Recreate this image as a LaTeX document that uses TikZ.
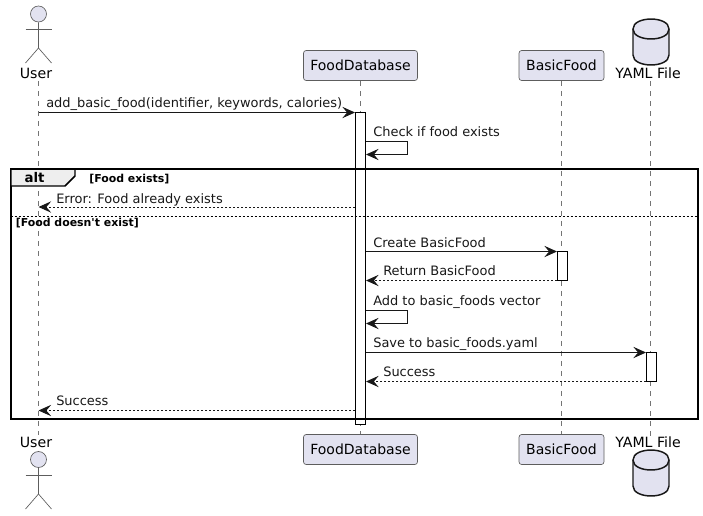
\documentclass[tikz,border=0pt]{standalone}
\usepackage{fontspec}
\setmainfont{DejaVu Sans}
\newfontfamily\gardefont{DejaVu Sans}
\usetikzlibrary{arrows.meta, positioning}
\definecolor{FondPart}{RGB}{226,226,240}
\definecolor{Trait}{RGB}{24,24,24}
\definecolor{FondAlt}{RGB}{238,238,238}
\tikzset{part/.style={rectangle, rounded corners=2pt, draw=Trait!70, fill=FondPart,
  line width=0.5pt, minimum height=22.5pt, inner sep=0pt, font=\fontsize{10.5pt}{12pt}\selectfont}}
\tikzset{nom/.style={inner sep=0pt, font=\fontsize{10.6pt}{12pt}\selectfont}}
\tikzset{lbl/.style={anchor=base west, inner sep=0pt, text=Trait, font=\fontsize{9.72pt}{12pt}\selectfont}}
\tikzset{garde/.style={anchor=base west, inner sep=0pt, font=\fontsize{8.2pt}{10pt}\gardefont\bfseries}}
\tikzset{vie/.style={draw=Trait!60, line width=0.4pt, dash pattern=on 3.75pt off 3.75pt}}
\tikzset{activ/.style={rectangle, draw=black, fill=white, line width=0.75pt, minimum width=7.5pt, inner sep=0pt}}
\tikzset{tete/.style={circle, draw=Trait!70, fill=FondPart, line width=0.5pt, minimum size=12pt, inner sep=0pt}}
\tikzset{corps/.style={draw=Trait!70, line width=0.5pt}}
\tikzset{cadre/.style={draw=black, line width=1.5pt}}
\tikzset{base/.pic={
  \draw[draw=Trait, fill=FondPart, line width=1.1pt] (-18,-13) .. controls (-18,-26.3) and (18,-26.3) .. (18,-13)
    -- (18,13) .. controls (18,26.3) and (-18,26.3) .. (-18,13) -- cycle;
  \draw[draw=Trait, line width=1.1pt] (-18,-13) .. controls (-18,0.3) and (18,0.3) .. (18,-13);
}}
\tikzset{fl/.style={-{Stealth[length=9.5pt, width=8.5pt, inset=3.6pt]}, draw=Trait, line width=0.75pt}}
\tikzset{ret/.style={fl, dash pattern=on 1.5pt off 1.5pt}}

\begin{document}
\begin{tikzpicture}[x=0.75pt, y=-0.75pt]
\useasboundingbox (0,0) rectangle (703,515);
% participants
\node[part, minimum width=85.5pt] (foodT) at (360.5,65.5) {FoodDatabase};
\node[part, minimum width=63.75pt] (basicT) at (561.5,65.5) {BasicFood};
\node[part, minimum width=85.5pt] (foodB) at (360.5,449.5) {FoodDatabase};
\node[part, minimum width=63.75pt] (basicB) at (561.5,449.5) {BasicFood};
\node[nom] (userT) at (36,73) {User};
\node[nom] (userB) at (36,442) {User};
% lifelines
\coordinate (userA) at (38.5,81); \coordinate (userZ) at (38.5,435);
\coordinate (yamlA) at (650.5,81); \coordinate (yamlZ) at (650.5,436);
\draw[vie] (userA) -- (userZ);
\draw[vie] (foodT) -- (foodB);
\draw[vie] (basicT) -- (basicB);
\draw[vie] (yamlA) -- (yamlZ);
\node[nom] (yamlT) at (648,73) {YAML File};
\node[nom] (yamlB) at (648,442) {YAML File};
\pic (dbT) at (651,42) {base};
\pic (dbB) at (651,473) {base};
% actors
\node[tete] (headT) at (38.5,14) {};
\coordinate (neckT) at (38.5,48);
\draw[corps] (headT.south) -- (neckT) -- ++(-13,15);
\draw[corps] (neckT) -- ++(13,15);
\draw[corps] (25.5,29) -- (51.5,29);
\node[tete] (headB) at (38.5,459.5) {};
\coordinate (neckB) at (38.5,494);
\draw[corps] (headB.south) -- (neckB) -- ++(-13,15);
\draw[corps] (neckB) -- ++(13,15);
\draw[corps] (25.5,475) -- (51.5,475);
% activations
\node[activ, minimum height=234pt] (acFood) at (360.5,268.5) {};
\node[activ, minimum height=21.75pt] (acBasic) at (562.5,266) {};
\node[activ, minimum height=21.75pt] (acYaml) at (651.5,367) {};
% frame
\draw[cadre] (10.5,169) rectangle (697.5,418.5);
\fill[FondAlt] (11.5,170) -- (75,170) -- (75,176) -- (65,186) -- (11.5,186) -- cycle;
\draw[draw=black, line width=1.1pt] (75,169) -- (75,176) -- (65,186) -- (10.5,186);
\node[anchor=base, inner sep=0pt, font=\fontsize{10pt}{12pt}\selectfont\bfseries] (alt) at (34.5,182.5) {alt};
\node[garde] (gA) at (89,182) {[Food exists]};
\coordinate (sepA) at (10.5,216); \coordinate (sepB) at (697.5,216);
\draw[draw=black, line width=0.5pt, dash pattern=on 1.5pt off 1.5pt] (sepA) -- (sepB);
\node[garde] (gB) at (15.5,226) {[Food doesn't exist]};
% messages
\coordinate (u1) at (38.5,112.5); \coordinate (f1) at (355,112.5);
\draw[fl] (u1) -- (f1);
\node[lbl] (m1) at (46,107) {add\_basic\_food(identifier, keywords, calories)};
\coordinate (f2a) at (366,141.5); \coordinate (f2b) at (366,154.5);
\draw[fl] (f2a) -- ++(41.5,0) |- (f2b);
\node[lbl] (m2) at (373,136) {Check if food exists};
\coordinate (f3) at (355,207); \coordinate (u3) at (38.5,207);
\draw[ret] (f3) -- (u3);
\node[lbl] (m3) at (56,203) {Error: Food already exists};
\coordinate (f4) at (366,251.5); \coordinate (b4) at (557,251.5);
\draw[fl] (f4) -- (b4);
\node[lbl] (m4) at (373,247) {Create BasicFood};
\coordinate (b5) at (557,280.5); \coordinate (f5) at (366,280.5);
\draw[ret] (b5) -- (f5);
\node[lbl] (m5) at (383,275.5) {Return BasicFood};
\coordinate (f6a) at (366,310.5); \coordinate (f6b) at (366,323.5);
\draw[fl] (f6a) -- ++(41.5,0) |- (f6b);
\node[lbl] (m6) at (373,305) {Add to basic\_foods vector};
\coordinate (f7) at (366,352.5); \coordinate (y7) at (646,352.5);
\draw[fl] (f7) -- (y7);
\node[lbl] (m7) at (373,347) {Save to basic\_foods.yaml};
\coordinate (y8) at (646,381.5); \coordinate (f8) at (366,381.5);
\draw[ret] (y8) -- (f8);
\node[lbl] (m8) at (383,376) {Success};
\coordinate (f9) at (355,410.5); \coordinate (u9) at (38.5,410.5);
\draw[ret] (f9) -- (u9);
\node[lbl] (m9) at (56,405) {Success};
\end{tikzpicture}
\end{document}
